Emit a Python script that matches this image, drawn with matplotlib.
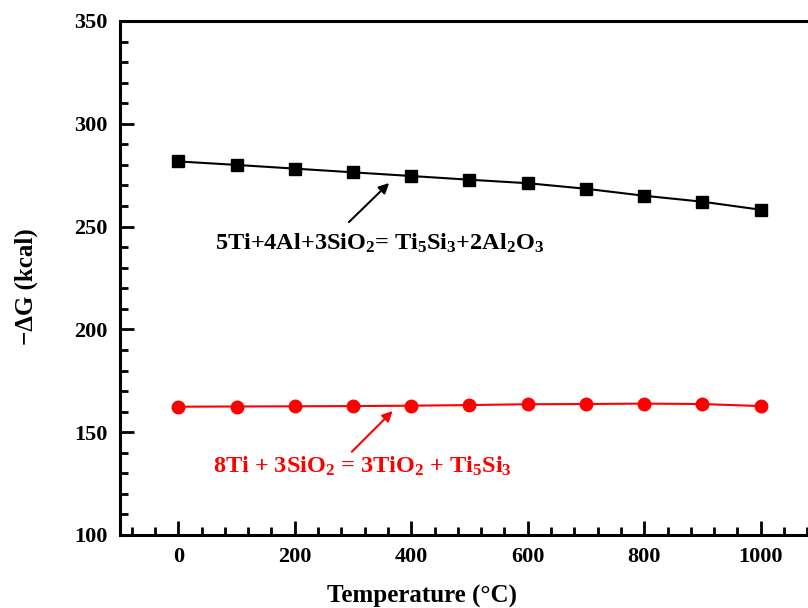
import matplotlib
matplotlib.use("Agg")
import matplotlib.pyplot as plt
from matplotlib.ticker import MultipleLocator

plt.rcParams['font.family'] = ['Liberation Serif', 'DejaVu Serif']
plt.rcParams['mathtext.fontset'] = 'custom'
plt.rcParams['mathtext.rm'] = 'Liberation Serif:bold'
plt.rcParams['mathtext.it'] = 'Liberation Serif:bold'
plt.rcParams['mathtext.bf'] = 'Liberation Serif:bold'

temperature = [0, 100, 200, 300, 400, 500, 600, 700, 800, 900, 1000]
dg_ti_al = [281.7, 280.0, 278.2, 276.4, 274.6, 272.8, 271.1, 268.4, 265.0, 262.1, 258.2]
dg_ti = [162.4, 162.5, 162.6, 162.7, 162.9, 163.2, 163.6, 163.7, 163.9, 163.7, 162.7]

label_black = r"5Ti+4Al+3SiO$_2$= Ti$_5$Si$_3$+2Al$_2$O$_3$"
label_red = r"8Ti + 3SiO$_2$ = 3TiO$_2$ + Ti$_5$Si$_3$"

fig = plt.figure(figsize=(8.08, 6.08), dpi=100)
ax = fig.add_axes([120/808, (608-535)/608, (819-120)/808, (535-21)/608])

ax.plot(temperature, dg_ti_al, color='black', marker='s', markersize=8, linewidth=1.5)
ax.plot(temperature, dg_ti, color='#ff0000', marker='o', markersize=9, linewidth=1.5)

ax.set_xlim(-100, 1100)
ax.set_ylim(100, 350)
ax.xaxis.set_major_locator(MultipleLocator(200))
ax.xaxis.set_minor_locator(MultipleLocator(40))
ax.yaxis.set_major_locator(MultipleLocator(50))
ax.yaxis.set_minor_locator(MultipleLocator(10))

ax.tick_params(which='both', direction='in', top=False, right=False, width=2)
ax.tick_params(which='major', length=10, labelsize=16, pad=9)
ax.tick_params(which='minor', length=6)
for lab in ax.get_xticklabels() + ax.get_yticklabels():
    lab.set_fontweight('bold')
for s in ax.spines.values():
    s.set_linewidth(2.2)

ax.set_xlabel("Temperature (\u00b0C)", fontsize=18, fontweight='bold')
ax.set_ylabel("\u2212\u0394G (kcal)", fontsize=18, fontweight='bold')
ax.xaxis.set_label_coords((422 - 120) / 699, (535 - 585) / 514)
ax.yaxis.set_label_coords((38 - 120) / 699, (535 - 287) / 514)

ax.text(345, 238.6, label_black, fontsize=17.5, fontweight='bold', color='black',
        ha='center', va='baseline')
ax.annotate('', xy=(362, 271.2), xytext=(293, 252.2),
            arrowprops=dict(arrowstyle='-|>', color='black', lw=1.5, mutation_scale=15,
                            shrinkA=0, shrinkB=0))
ax.text(316, 130.2, label_red, fontsize=17.5, fontweight='bold', color='#ff0000',
        ha='center', va='baseline')
ax.annotate('', xy=(368, 160.3), xytext=(298, 140.5),
            arrowprops=dict(arrowstyle='-|>', color='#ff0000', lw=1.5, mutation_scale=15,
                            shrinkA=0, shrinkB=0))

fig.savefig("out.png", dpi=100)
